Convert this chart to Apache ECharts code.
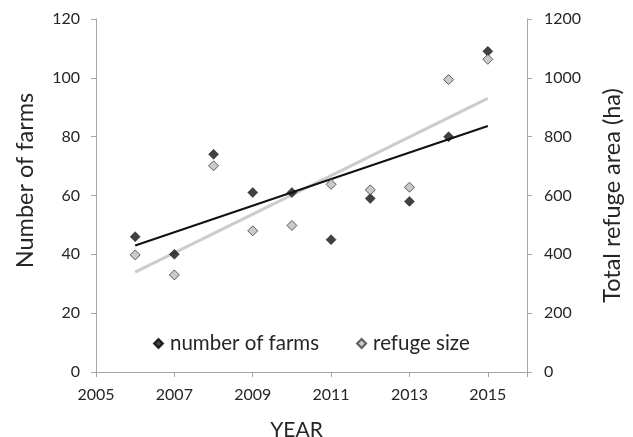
<!DOCTYPE html>
<html>
<head>
<meta charset="utf-8">
<script src="https://cdn.jsdelivr.net/npm/echarts@6/dist/echarts.min.js"></script>
<style>html,body{margin:0;padding:0;background:#fff}#c{width:633px;height:437px}</style>
</head>
<body>
<div id="c"></div>
<script>
var years = [2006, 2007, 2008, 2009, 2010, 2011, 2012, 2013, 2014, 2015];
var farms = [46, 40, 74, 61, 61, 45, 59, 58, 80, 109];
var refuge = [398, 330, 701, 480, 498, 638, 619, 628, 994, 1063];
var xTicks = [2005, 2007, 2009, 2011, 2013, 2015];

function fit(xs, ys) {
  var n = xs.length, mx = 0, my = 0, sxy = 0, sxx = 0;
  for (var i = 0; i < n; i++) { mx += xs[i]; my += ys[i]; }
  mx /= n; my /= n;
  for (var j = 0; j < n; j++) { sxy += (xs[j] - mx) * (ys[j] - my); sxx += (xs[j] - mx) * (xs[j] - mx); }
  var b = sxy / sxx, a = my - b * mx;
  var x0 = xs[0], x1 = xs[n - 1];
  return [[x0, a + b * x0], [x1, a + b * x1]];
}
function pairs(xs, ys) { return xs.map(function (x, i) { return [x, ys[i]]; }); }

var FONT = 'Lato';
var axisGray = '#a6a6a6';
var txt = '#262626';

var chart = echarts.init(document.getElementById('c'));
chart.setOption({
  animation: false,
  textStyle: { fontFamily: FONT },
  grid: { left: 96, right: 106, top: 19, bottom: 65, outerBoundsMode: 'none', containLabel: false },
  legend: {
    data: ['number of farms', 'refuge size'],
    left: 148, top: 328,
    itemWidth: 9, itemHeight: 9, itemGap: 37,
    textStyle: { fontFamily: FONT, fontSize: 20.5, color: txt, padding: [0, 0, 0, 2] }
  },
  xAxis: {
    type: 'value', min: 2005, max: 2016, interval: 2,
    name: 'YEAR', nameLocation: 'middle', nameGap: 48, nameMoveOverlap: false,
    nameTextStyle: { fontFamily: FONT, fontSize: 21, color: txt, padding: [0, 30, 0, 0] },
    axisLine: { lineStyle: { color: axisGray } },
    axisTick: { length: 5, lineStyle: { color: axisGray } },
    axisLabel: { margin: 15, fontSize: 16, color: txt, fontFamily: FONT,
      formatter: function (v) { return xTicks.indexOf(v) >= 0 ? String(v) : ''; } },
    splitLine: { show: false }
  },
  yAxis: [{
    type: 'value', min: 0, max: 120, interval: 20, position: 'left',
    name: 'Number of farms', nameLocation: 'middle', nameGap: 59, nameMoveOverlap: false,
    nameTextStyle: { fontFamily: FONT, fontSize: 23.5, color: txt, padding: [0, 0, 0, 30] },
    axisLine: { show: true, lineStyle: { color: axisGray } },
    axisTick: { show: true, length: 5, lineStyle: { color: axisGray } },
    axisLabel: { margin: 16, fontSize: 16, color: txt, fontFamily: FONT },
    splitLine: { show: false }
  }, {
    type: 'value', min: 0, max: 1200, interval: 200, position: 'right',
    name: 'Total refuge area (ha)', nameLocation: 'middle', nameGap: 73, nameMoveOverlap: false,
    nameTextStyle: { fontFamily: FONT, fontSize: 23.5, color: txt },
    axisLine: { show: true, lineStyle: { color: axisGray } },
    axisTick: { show: true, length: 5, lineStyle: { color: axisGray } },
    axisLabel: { margin: 17, fontSize: 16, color: txt, fontFamily: FONT,
      formatter: function (v) { return String(v); } },
    splitLine: { show: false }
  }],
  series: [{
    name: 'refuge trend', type: 'line', yAxisIndex: 1, data: fit(years, refuge),
    symbol: 'none', lineStyle: { color: '#cccccc', width: 3 }, z: 2, silent: true
  }, {
    name: 'farms trend', type: 'line', yAxisIndex: 0, data: fit(years, farms),
    symbol: 'none', lineStyle: { color: '#111111', width: 2 }, z: 2, silent: true
  }, {
    name: 'number of farms', type: 'scatter', yAxisIndex: 0, data: pairs(years, farms),
    symbol: 'diamond', symbolSize: 10,
    itemStyle: { color: '#111111', borderColor: '#000000', borderWidth: 0.5 }, z: 3
  }, {
    name: 'refuge size', type: 'scatter', yAxisIndex: 1, data: pairs(years, refuge),
    symbol: 'diamond', symbolSize: 10,
    itemStyle: { color: '#bdbdbd', borderColor: '#3a3a3a', borderWidth: 1 }, z: 4
  }]
});
</script>
</body>
</html>
